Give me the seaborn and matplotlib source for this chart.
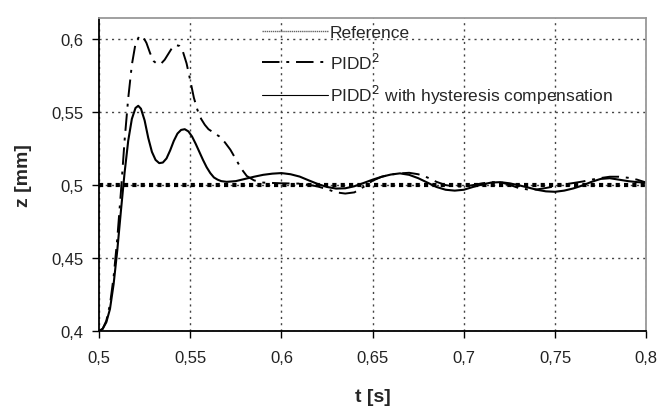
import numpy as np
import pandas as pd
import matplotlib
matplotlib.use("Agg")
import matplotlib.pyplot as plt
from matplotlib.lines import Line2D
from matplotlib.ticker import FuncFormatter
import seaborn as sns

sns.set_style("ticks")
plt.rcParams['font.family'] = ['Liberation Sans', 'DejaVu Sans']

# time [s] and displacement [mm]
t_ref = [0.5, 0.8]
z_ref = [0.5, 0.5]

t_pidd = [0.500, 0.502, 0.504, 0.506, 0.508, 0.510, 0.512, 0.514, 0.516,
          0.518, 0.520, 0.522, 0.524, 0.526, 0.528, 0.530, 0.532, 0.534,
          0.536, 0.538, 0.540, 0.542, 0.544, 0.546, 0.548, 0.550, 0.552,
          0.554, 0.556, 0.558, 0.560, 0.563, 0.566, 0.569, 0.572, 0.575,
          0.578, 0.581, 0.585, 0.590, 0.600, 0.610, 0.615, 0.620, 0.625,
          0.630, 0.635, 0.640, 0.645, 0.650, 0.655, 0.660, 0.665, 0.670,
          0.675, 0.680, 0.685, 0.690, 0.695, 0.700, 0.705, 0.710, 0.715,
          0.720, 0.725, 0.730, 0.735, 0.740, 0.745, 0.750, 0.755, 0.760,
          0.765, 0.770, 0.775, 0.780, 0.785, 0.790, 0.795, 0.800]
z_pidd = [0.400, 0.4015, 0.407, 0.418, 0.437, 0.463, 0.495, 0.530, 0.559,
          0.582, 0.5965, 0.6015, 0.6015, 0.597, 0.590, 0.5845, 0.5825, 0.5828,
          0.5855, 0.5895, 0.5935, 0.5955, 0.595, 0.591, 0.583, 0.5715, 0.5595,
          0.551, 0.545, 0.541, 0.538, 0.5355, 0.533, 0.529, 0.524, 0.5175,
          0.511, 0.506, 0.503, 0.5015, 0.501, 0.5008, 0.500, 0.4988, 0.497,
          0.4948, 0.494, 0.4948, 0.4985, 0.5028, 0.5055, 0.507, 0.5078, 0.5082,
          0.5072, 0.505, 0.502, 0.4998, 0.4988, 0.4988, 0.4998, 0.501, 0.5018,
          0.5018, 0.500, 0.4978, 0.4968, 0.4968, 0.4978, 0.499, 0.5002, 0.5012,
          0.5022, 0.5035, 0.5046, 0.5055, 0.5055, 0.5048, 0.5035, 0.5015]

t_hyst = [0.500, 0.502, 0.504, 0.506, 0.508, 0.510, 0.512, 0.514, 0.516,
          0.518, 0.520, 0.5215, 0.523, 0.525, 0.527, 0.529, 0.531, 0.533,
          0.535, 0.537, 0.539, 0.541, 0.543, 0.545, 0.547, 0.549, 0.551,
          0.553, 0.555, 0.557, 0.559, 0.561, 0.563, 0.565, 0.567, 0.570,
          0.575, 0.580, 0.585, 0.590, 0.595, 0.600, 0.605, 0.610, 0.615,
          0.620, 0.625, 0.630, 0.635, 0.640, 0.645, 0.650, 0.655, 0.660,
          0.665, 0.670, 0.675, 0.680, 0.685, 0.690, 0.695, 0.700, 0.705,
          0.710, 0.715, 0.720, 0.725, 0.730, 0.735, 0.740, 0.745, 0.750,
          0.755, 0.760, 0.765, 0.770, 0.775, 0.780, 0.785, 0.790, 0.795, 0.800]
z_hyst = [0.400, 0.4015, 0.406, 0.415, 0.432, 0.455, 0.482, 0.508, 0.530,
          0.545, 0.5525, 0.554, 0.552, 0.544, 0.532, 0.5225, 0.517, 0.5148,
          0.5152, 0.518, 0.5235, 0.530, 0.535, 0.5375, 0.538, 0.5365, 0.533,
          0.528, 0.5225, 0.517, 0.512, 0.508, 0.505, 0.5035, 0.5025, 0.502,
          0.5025, 0.504, 0.5055, 0.5068, 0.5076, 0.508, 0.5072, 0.5056, 0.503,
          0.5005, 0.4985, 0.4974, 0.4976, 0.499, 0.5012, 0.5035, 0.5055, 0.507,
          0.5078, 0.5068, 0.5045, 0.5015, 0.4985, 0.4966, 0.496, 0.4966, 0.4985,
          0.5002, 0.5015, 0.5018, 0.501, 0.4997, 0.4982, 0.4966, 0.4955, 0.4952,
          0.496, 0.4975, 0.4995, 0.502, 0.504, 0.5045, 0.5035, 0.5025, 0.5018,
          0.5015]

labels = ["Reference", "PIDD$^2$", "PIDD$^2$ with hysteresis compensation"]
x_ticks = [0.5, 0.55, 0.6, 0.65, 0.7, 0.75, 0.8]
y_ticks = [0.4, 0.45, 0.5, 0.55, 0.6]

ref = pd.DataFrame({"t": t_ref, "z": z_ref})
pidd = pd.DataFrame({"t": t_pidd, "z": z_pidd})
hyst = pd.DataFrame({"t": t_hyst, "z": z_hyst})

fig = plt.figure(figsize=(6.69, 4.14), dpi=100)
ax = fig.add_axes([0.148, 0.198, 0.818, 0.756])

dashdot = (0, (9, 3.5, 1.5, 3.5))
sns.lineplot(data=ref, x="t", y="z", ax=ax, color="black", lw=3,
             linestyle=(0, (1, 1)), estimator=None, sort=False)
sns.lineplot(data=pidd, x="t", y="z", ax=ax, color="black", lw=1.4,
             linestyle=dashdot, estimator=None, sort=False)
sns.lineplot(data=hyst, x="t", y="z", ax=ax, color="black", lw=1.5,
             estimator=None, sort=False)

ax.set_xlim(0.5, 0.8)
ax.set_ylim(0.4, 0.614)
ax.set_xticks(x_ticks)
ax.set_yticks(y_ticks)
comma = FuncFormatter(lambda v, p: ("%g" % round(v, 3)).replace(".", ","))
ax.xaxis.set_major_formatter(comma)
ax.yaxis.set_major_formatter(comma)
ax.tick_params(labelsize=12, length=5, width=1, colors="black",
               labelcolor="#222222", pad=6)
ax.tick_params(axis="x", pad=9)
ax.grid(True, color="#444444", linestyle=(0, (1.5, 3)), lw=1)

for s in ["left", "bottom"]:
    ax.spines[s].set_color("black")
    ax.spines[s].set_linewidth(1.3)
for s in ["top", "right"]:
    ax.spines[s].set_visible(True)
    ax.spines[s].set_color("#999999")
    ax.spines[s].set_linewidth(1.3)

ax.set_xlabel("t [s]", fontsize=14, fontweight="bold", labelpad=16)
ax.set_ylabel("z [mm]", fontsize=14, fontweight="bold", labelpad=14)

handles = [
    Line2D([], [], color="#666666", lw=1, linestyle=(0, (1, 0.5))),
    Line2D([], [], color="black", lw=1.4, linestyle=dashdot),
    Line2D([], [], color="black", lw=0.8),
]
leg = ax.legend(handles, labels, loc="upper left", bbox_to_anchor=(0.285, 1.0),
                frameon=False, fontsize=12.5, handlelength=3.8, handletextpad=0.1,
                labelspacing=0.65, borderaxespad=0)

fig.savefig("out.png", dpi=100, facecolor="white")
